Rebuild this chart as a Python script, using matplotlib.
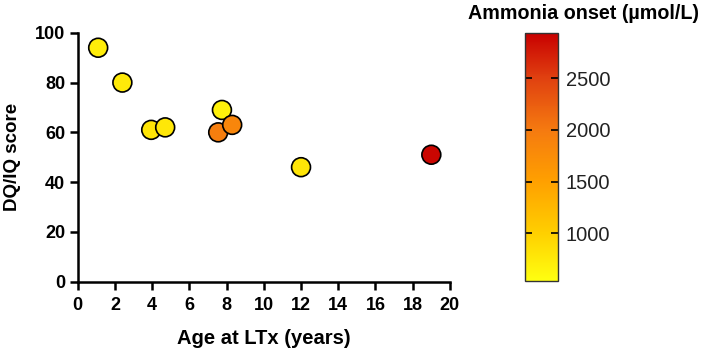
import numpy as np
import matplotlib.pyplot as plt
from matplotlib.colors import LinearSegmentedColormap, Normalize

# Data
age = [1.1, 2.4, 3.95, 4.7, 7.75, 7.55, 8.3, 12.0, 19.0]
score = [94, 80, 61, 62, 69, 60, 63, 46, 51]
ammonia = [720, 750, 800, 780, 680, 1950, 1850, 800, 2900]

x_ticks = [0, 2, 4, 6, 8, 10, 12, 14, 16, 18, 20]
y_ticks = [0, 20, 40, 60, 80, 100]
cb_ticks = [1000, 1500, 2000, 2500]

plt.rcParams['font.family'] = ['Liberation Sans', 'DejaVu Sans']

cmap = LinearSegmentedColormap.from_list(
    'ammonia', [(0, '#ffff10'), (0.19, '#ffd000'), (0.4, '#ffa000'),
                (0.61, '#f57a10'), (0.82, '#e04010'), (1, '#c80000')])
norm = Normalize(vmin=540, vmax=2940)

fig = plt.figure(figsize=(7.09, 3.49), dpi=100)
ax = fig.add_axes([0.1096, 0.193, 0.525, 0.713])

sc = ax.scatter(age, score, c=ammonia, cmap=cmap, norm=norm, s=185,
                edgecolors='black', linewidths=1.2, zorder=3, clip_on=False)

ax.set_xlim(0, 20)
ax.set_ylim(0, 100)
ax.set_xticks(x_ticks)
ax.set_yticks(y_ticks)
for side in ['top', 'right']:
    ax.spines[side].set_visible(False)
for side in ['left', 'bottom']:
    ax.spines[side].set_linewidth(1.8)
ax.tick_params(width=1.8, length=6, labelsize=13, pad=3)
ax.tick_params(axis='x', pad=5)
for lab in ax.get_xticklabels() + ax.get_yticklabels():
    lab.set_fontweight('bold')
ax.set_xlabel('Age at LTx (years)', fontsize=14.5, fontweight='bold', labelpad=11)
ax.set_ylabel('DQ/IQ score', fontsize=13.5, fontweight='bold', labelpad=10)

# Colorbar
cax = fig.add_axes([0.7405, 0.195, 0.046, 0.711])
cb = fig.colorbar(sc, cax=cax, ticks=cb_ticks)
cb.outline.set_linewidth(1.0)
cb.outline.set_edgecolor('#333333')
cax.yaxis.set_ticks_position('both')
cax.tick_params(direction='in', length=5, width=1.2, labelsize=14.5, pad=6,
                labelleft=False, labelright=True, labelcolor='#222222')
fig.text(0.823, 0.962, 'Ammonia onset (µmol/L)', ha='center', va='center',
         fontsize=14.2, fontweight='bold')

fig.savefig('out.png', dpi=100)
